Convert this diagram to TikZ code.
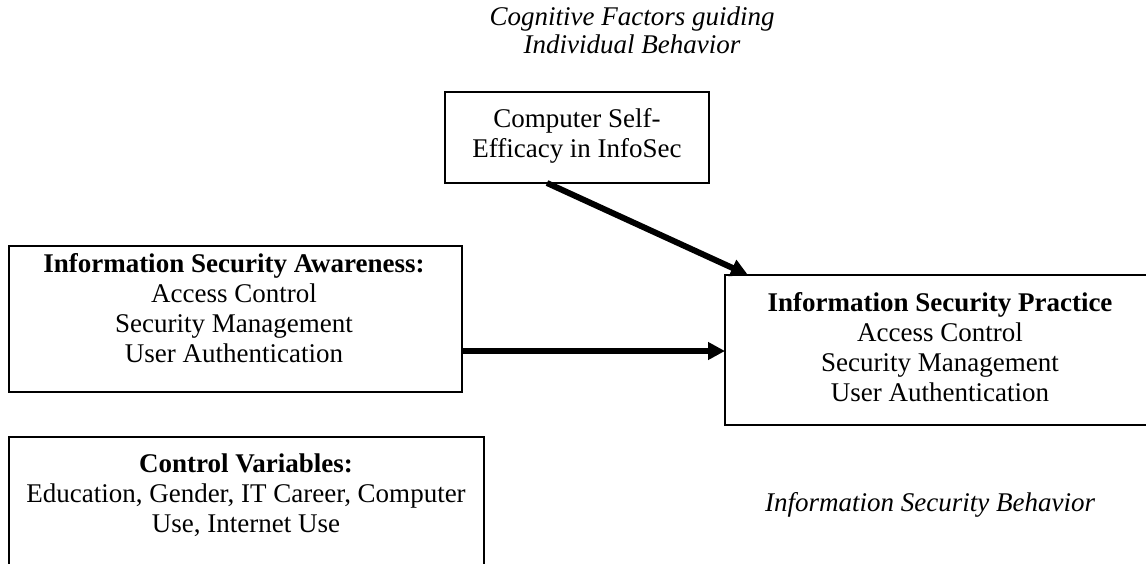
\documentclass[tikz,border=0pt]{standalone}
\usepackage{fontspec}
\setmainfont{Liberation Serif}
\usetikzlibrary{arrows.meta}
\begin{document}
\begin{tikzpicture}[x=0.5pt,y=-0.5pt,
  box/.style={draw, line width=0.9pt, inner sep=0pt},
  txt/.style={inner sep=0pt, align=center, anchor=base, font=\fontsize{13.5}{15}\selectfont},
  lbl/.style={txt, font=\fontsize{13.5}{14}\selectfont\itshape},
  arr/.style={line width=3pt, -{Triangle[length=8.5pt,width=8.5pt]}}]
\useasboundingbox (0,0) rectangle (1146,563);
\clip (0,0) rectangle (1146,563);
% boxes
\node[box, minimum width=132pt, minimum height=45.5pt] (cse) at (577,137.5) {};
\node[box, minimum width=226.5pt, minimum height=73pt] (isa) at (235.5,319) {};
\node[box, minimum width=215pt, minimum height=75pt] (isp) at (940,350) {};
\node[box, minimum width=237.5pt, minimum height=91.5pt] (ctl) at (246.5,528.5) {};
% texts (anchor=base is the baseline of the last line)
\node[lbl] (t1) at (632,53) {Cognitive Factors guiding\\Individual Behavior};
\node[txt] (t2) at (577,157) {Computer Self-\\Efficacy in InfoSec};
\node[txt] (t3) at (234,362) {\textbf{Information Security Awareness:}\\Access Control\\Security Management\\User Authentication};
\node[txt] (t4) at (940,401) {\textbf{Information Security Practice}\\Access Control\\Security Management\\User Authentication};
\node[txt] (t5) at (246,532) {\textbf{Control Variables:}\\Education, Gender, IT Career, Computer\\Use, Internet Use};
\node[lbl] (t6) at (930,511) {Information Security Behavior};
% connectors
\coordinate (a1s) at (547,183);
\coordinate (a1e) at (748,275);
\coordinate (a2s) at (462,351);
\coordinate (a2e) at (725,351);
\draw[arr] (a1s) -- (a1e);
\draw[arr] (a2s) -- (a2e);
\end{tikzpicture}
\end{document}
